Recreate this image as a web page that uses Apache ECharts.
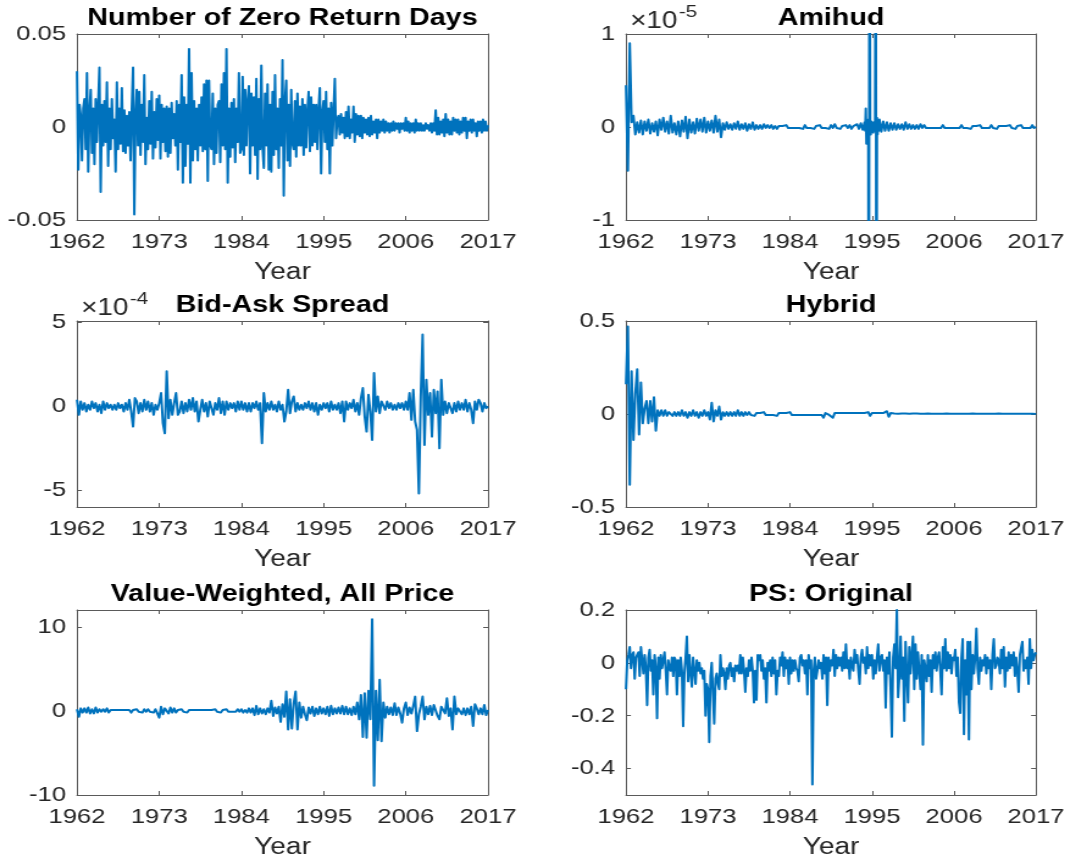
<!DOCTYPE html>
<html><head><meta charset="utf-8">
<script src="https://cdn.jsdelivr.net/npm/echarts@6/dist/echarts.min.js"></script>
<style>
html,body{margin:0;padding:0;background:#fff;overflow:hidden;}
#chart{width:879.5px;height:863px;transform:scaleX(1.22);transform-origin:0 0;}
</style></head><body><div id="chart"></div>
<script>
// ---------- data ----------
const startYear = 1962;
const endYear = 2017;
const yearTicks = [1962, 1973, 1984, 1995, 2006, 2017];

const zrdTicks = [-0.05, 0, 0.05];
const amihudTicks = [-1, 0, 1];        // x 1e-5
const bidAskTicks = [-5, 0, 5];        // x 1e-4
const hybridTicks = [-0.5, 0, 0.5];
const vwTicks = [-10, 0, 10];
const psTicks = [-0.4, -0.2, 0, 0.2];

// bi-monthly, 1962.0 .. 2017.0
const zeroReturnDays = [
 0.030,-0.023,0.012,0.006,-0.018,0.010, 0.015,-0.012,0.029,-0.024,0.008,0.020,
 -0.014,0.010,-0.020,0.015,-0.008,0.012, 0.032,-0.035,0.012,-0.010,0.014,-0.008,
 0.024,-0.021,0.010,-0.012,0.015,-0.006, 0.004,-0.024,0.024,-0.012,0.010,-0.009,
 0.021,-0.013,0.009,-0.014,0.006,-0.010, 0.008,-0.018,0.010,0.032,-0.047,0.006,
 0.020,-0.010,0.019,-0.015,0.012,-0.008, 0.028,-0.020,0.005,-0.012,0.014,-0.009,
 0.019,-0.017,0.008,-0.011,0.015,-0.007, 0.017,-0.017,0.012,-0.008,0.010,-0.013,
 0.011,-0.016,0.010,-0.014,0.013,-0.006, 0.007,-0.010,0.014,-0.023,0.012,-0.008,
 0.028,-0.030,0.016,-0.021,0.012,-0.009, 0.042,-0.030,0.029,-0.018,0.014,-0.012,
 0.010,-0.018,0.012,-0.010,0.016,-0.013, 0.023,-0.012,0.025,-0.029,0.025,-0.010,
 -0.012,0.018,-0.020,0.010,-0.014,0.012, 0.014,-0.019,0.023,-0.010,0.029,-0.012,
 0.042,-0.030,0.010,-0.016,0.013,-0.011, 0.015,-0.019,0.010,-0.008,0.029,-0.014,
 -0.012,0.027,-0.015,0.020,-0.010,0.014, 0.022,-0.025,0.018,-0.010,0.016,-0.015,
 0.026,-0.028,0.015,-0.012,0.033,-0.011, -0.022,0.018,-0.010,0.023,-0.023,0.012,
 -0.024,0.019,-0.015,0.028,-0.012,0.010, -0.022,0.015,-0.010,0.036,-0.037,0.014,
 0.025,-0.018,0.012,-0.021,0.020,-0.009, -0.012,0.014,-0.016,0.018,-0.010,0.011,
 -0.010,0.015,-0.015,0.012,-0.011,0.009, 0.019,-0.013,0.016,-0.010,0.012,-0.008,
 0.012,-0.012,0.010,0.021,-0.025,0.008, 0.014,-0.008,0.019,-0.012,0.010,-0.025,
 0.013,-0.010,0.009,0.026,-0.006,0.004, 0.006,-0.004,0.007,-0.003,0.005,-0.006,
 0.008,-0.005,0.011,-0.006,0.004,-0.003, 0.011,-0.008,0.007,-0.004,0.006,-0.005,
 0.006,-0.006,0.005,-0.003,0.004,-0.004, 0.005,-0.005,0.006,-0.004,0.003,-0.003,
 0.004,-0.006,0.004,-0.003,0.003,-0.002, 0.004,-0.003,0.003,-0.002,0.002,-0.003,
 0.002,-0.002,0.003,-0.002,0.002,-0.001, 0.002,-0.003,0.002,-0.001,0.002,-0.002,
 0.005,-0.002,0.003,-0.003,0.002,-0.002, 0.002,-0.003,0.004,-0.002,0.002,-0.002,
 0.002,-0.002,0.001,-0.002,0.002,-0.001, 0.001,-0.002,0.002,-0.003,0.002,-0.002,
 0.009,-0.004,0.005,-0.004,0.003,-0.003, 0.004,-0.005,0.007,-0.003,0.004,-0.004,
 0.003,-0.004,0.005,-0.002,0.004,-0.003, 0.004,-0.004,0.003,-0.003,0.005,-0.002,
 0.005,-0.006,0.003,-0.002,0.004,-0.003, 0.004,-0.002,0.002,-0.005,0.003,-0.002,
 0.003,-0.003,0.004,-0.002,0.003,-0.002,
 0.001
];

// x 1e-5 : quarterly 1962.0-1993.75, monthly 1994.0-1995.917, quarterly 1996.0-2017.0
const amihudEarly = [
 0.45,-0.47,0.90,0.05, 0.12,-0.08,0.05,-0.06, 0.07,-0.08,0.06,-0.04, 0.08,-0.07,0.04,-0.05,
 0.06,-0.09,0.08,-0.03, 0.10,-0.05,0.06,-0.07, 0.12,-0.06,0.04,-0.08, 0.06,-0.10,0.07,-0.05,
 0.11,-0.12,0.08,-0.06, 0.05,-0.07,0.09,-0.04, 0.08,-0.05,0.10,-0.06, 0.06,-0.04,0.07,-0.06,
 0.12,-0.05,0.08,-0.11, 0.04,-0.03,0.05,-0.02, 0.03,-0.03,0.04,-0.02, 0.06,-0.03,0.03,-0.02,
 0.04,-0.04,0.03,-0.02, 0.05,-0.03,0.02,-0.02, 0.02,-0.02,0.03,-0.01, 0.02,-0.01,0.02,-0.02,
 0.01,-0.02,0.01,-0.01, 0.01,-0.01,0.02,-0.01, 0.01,-0.01,0.01,-0.01, 0.01,-0.01,0.01,-0.02,
 0.02,-0.01,0.01,-0.01, 0.01,-0.02,0.01,-0.01, 0.02,-0.01,0.01,-0.01, 0.01,-0.02,0.02,-0.01,
 0.03,-0.01,0.01,-0.02, 0.01,-0.01,0.02,-0.01, 0.02,-0.02,0.01,-0.01, 0.03,-0.02,0.04,-0.03
];
const amihudSpike = [
 0.05,-0.04,0.20,-0.18,0.06,-0.05,0.08,-4.0,4.0,0.05,-0.08,0.06,
 -0.05,0.04,-0.06,0.05,-0.04,0.03,4.0,-4.0,0.10,-0.08,0.06,-0.04
];
const amihudLate = [
 0.08,-0.05,0.06,-0.04, 0.05,-0.04,0.04,-0.03, 0.04,-0.03,0.03,-0.02, 0.03,-0.03,0.05,-0.02,
 0.03,-0.02,0.02,-0.02, 0.02,-0.02,0.03,-0.01, 0.02,-0.01,0.01,-0.01, 0.01,-0.01,0.01,-0.01,
 0.01,-0.01,0.02,-0.01, 0.01,-0.01,0.01,-0.01, 0.01,-0.01,0.01,-0.01, 0.02,-0.01,0.01,-0.01,
 0.01,-0.02,0.01,-0.01, 0.01,-0.01,0.02,-0.01, 0.01,-0.01,0.01,-0.01, 0.02,-0.01,0.01,-0.02,
 0.01,-0.01,0.01,-0.01, 0.01,-0.01,0.02,-0.01, 0.01,-0.02,0.01,-0.01, 0.02,-0.01,0.01,-0.01,
 0.01,-0.01,0.02,-0.01,
 0.00
];

// quarterly, x 1e-4
const bidAsk = [
 0.4,-0.5,0.3,-0.2, 0.2,-0.3,0.1,-0.2, 0.3,-0.1,0.2,-0.3, 0.1,-0.4,0.3,-0.2,
 0.2,-0.1,0.1,-0.2, 0.1,-0.2,0.2,-0.1, 0.1,-0.3,0.2,-0.2, 0.4,-0.3,-1.2,0.5,
 0.3,-0.4,0.2,-0.3, 0.4,-0.2,0.3,-0.3, 0.2,-0.5,0.1,-0.2, 0.2,0.8,-1.0,-1.6,
 2.1,-0.7,0.4,-0.5, 0.2,0.8,-0.5,-0.3, 0.3,-0.4,0.2,-0.3, 0.4,-0.2,0.5,-0.3,
 0.3,-0.9,-0.2,0.4, -0.3,0.2,-0.6,0.3, 0.4,-0.5,0.2,-0.2, 0.5,-0.4,0.3,-0.5,
 0.3,-0.2,0.2,-0.1, 0.2,-0.3,0.3,-0.2, 0.3,-0.2,0.2,-0.3, 0.2,-0.3,0.2,-0.1,
 0.3,-0.2,0.2,-2.2, 0.8,-0.3,0.2,-0.2, 0.3,-0.2,0.1,-0.3, 0.3,-0.2,0.1,-0.9,
 -0.3,1.0,-0.4,0.3, 0.6,-0.3,0.2,-0.2, 0.1,-0.2,0.2,-0.1, 0.3,-0.2,0.2,-0.3,
 0.2,-0.5,0.1,-0.2, 0.2,-0.1,0.2,-0.3, 0.3,-0.2,0.1,-0.2, 0.2,-0.4,0.3,-0.9,
 0.3,-0.2,0.2,-0.1, 0.4,-0.3,0.2,-0.5, 0.5,1.1,-0.6,-1.5, 0.7,-0.3,-2.0,2.0,
 -0.3,0.6,-0.4,0.3, 0.3,-0.2,0.3,-0.1, 0.2,-0.2,0.1,-0.2, 0.2,-0.1,0.2,-0.2,
 0.3,-0.2,0.8,-0.8, 1.0,-0.9,-1.4,-5.2, 0.6,4.3,-2.3,1.6, -0.5,0.8,-1.8,1.0,
 -0.4,0.9,-2.5,1.6, -0.5,0.3,-0.4,0.2, 0.3,-0.4,0.2,-0.3, 0.3,-0.2,0.2,-0.2,
 0.4,-0.3,0.2,-0.2, -1.0,0.3,-0.2,0.4, 0.2,-0.3,0.2,-0.1,
 0.0
];

// quarterly
const hybrid = [
 0.16,0.47,-0.38,0.23, -0.14,0.11,0.24,-0.11, 0.17,-0.05,0.03,0.07, -0.05,0.07,-0.04,0.09,
 -0.09,0.02,-0.01,0.02, -0.01,0.02,-0.01,0.01, 0.01,-0.01,0.01,-0.01, 0.01,-0.01,0.02,-0.01,
 0.01,-0.02,0.01,-0.01, 0.02,-0.01,0.01,-0.02, 0.01,-0.01,0.02,-0.01, 0.01,-0.03,0.06,-0.04,
 0.02,-0.01,0.04,-0.03, 0.01,-0.01,0.01,-0.01, 0.01,-0.01,0.01,-0.01, 0.02,-0.01,0.01,-0.01,
 0.01,-0.005,0.01,-0.005, 0.005,-0.01,0.005,-0.005, 0.005,-0.005,0.01,-0.005, 0.005,-0.005,0.005,-0.005,
 0.005,-0.01,0.005,-0.005, 0.005,-0.005,0.005,-0.005, 0.01,-0.005,0.005,-0.005, 0.005,-0.005,0.005,-0.005,
 0.005,-0.005,0.005,-0.005, 0.005,-0.005,0.005,-0.005, 0.005,-0.005,-0.02,0.005, 0.005,-0.005,0.005,-0.02,
 0.005,-0.005,0.005,-0.005, 0.005,-0.005,0.005,-0.005, 0.005,-0.005,0.005,-0.005, 0.005,-0.005,0.005,-0.005,
 0.005,-0.005,0.01,-0.01, 0.005,-0.005,0.005,-0.005, 0.005,-0.005,0.005,-0.005, 0.015,-0.015,0.005,-0.005,
 0.003,-0.003,0.002,-0.003, 0.003,-0.002,0.003,-0.003, 0.002,-0.003,0.003,-0.002, 0.003,-0.003,0.002,-0.002,
 0.002,-0.002,0.003,-0.002, 0.002,-0.003,0.002,-0.002, 0.002,-0.002,0.002,-0.002, 0.003,-0.002,0.002,-0.002,
 0.002,-0.002,0.002,-0.003, 0.002,-0.002,0.002,-0.002, 0.002,-0.002,0.003,-0.002, 0.002,-0.002,0.002,-0.002,
 0.002,-0.003,0.002,-0.002, 0.002,-0.002,0.002,-0.002, 0.003,-0.002,0.002,-0.002, 0.002,-0.002,0.002,-0.002,
 0.002,-0.002,0.002,-0.002, 0.002,-0.002,0.002,-0.002, 0.002,-0.002,0.002,-0.002,
 0.0
];

// quarterly
const valueWeighted = [
 0.2,-0.7,0.3,-0.2, 0.3,-0.2,0.4,-0.3, 0.2,-0.3,0.4,-0.2, 0.2,-0.1,0.2,-0.1,
 0.3,-0.2,0.1,-0.1, 0.1,-0.1,0.1,-0.1, 0.1,-0.1,0.1,-0.1, 0.1,-0.2,0.1,-0.1,
 0.2,-0.1,0.1,-0.2, 0.2,-0.1,0.2,-0.1, 0.1,-0.2,0.2,-0.3, -0.8,0.5,-0.4,0.3,
 0.2,-0.3,0.4,-0.2, 0.3,-0.2,0.1,-0.1, 0.2,-0.1,0.1,-0.2, 0.1,-0.1,0.1,-0.1,
 0.1,-0.1,0.1,-0.1, 0.1,-0.1,0.1,-0.1, 0.1,-0.1,0.2,-0.1, 0.1,-0.2,0.1,-0.1,
 0.2,-0.1,0.1,-0.1, 0.1,-0.1,0.2,-0.1, 0.2,-0.2,0.1,-0.2, 0.3,-0.2,0.3,-0.5,
 0.6,-0.4,0.3,-0.3, 0.2,-0.4,0.3,-0.2, 1.2,-0.6,0.4,-0.3, 0.5,-1.3,0.8,-0.7,
 2.3,-2.2,1.4,-2.1, 0.9,2.3,-2.2,1.0, -0.8,0.5,-0.4,-1.1, 0.4,-0.3,0.5,-0.6,
 0.3,-0.4,0.5,-0.3, 0.3,-0.4,0.5,-0.6, 0.6,-0.4,0.3,-0.3, 0.4,-0.3,0.6,-0.4,
 0.5,-0.4,0.3,-0.5, 0.5,-0.4,1.0,-1.0, 1.9,-3.1,2.1,-3.2, 2.4,-1.0,10.9,-8.9,
 2.4,-3.5,3.7,-3.6, 1.0,-0.8,0.5,-0.4, 0.4,-0.5,0.9,-0.5, 0.4,-0.3,-1.4,0.3,
 1.0,-0.5,0.4,-0.3, 0.6,1.7,-2.4,-0.4, 0.5,1.7,-1.0,0.5, -0.4,0.6,-0.5,0.7,
 0.5,-0.6,-1.0,0.5, 0.4,-0.3,1.5,-0.6, 0.3,-2.2,1.7,-0.4, 0.3,0.5,-0.4,0.3,
 -0.5,0.3,-0.4,0.5, -1.8,0.8,0.3,-0.4, 0.3,-0.4,0.7,-0.5,
 0.1
];

// bi-monthly
const psOriginal = [
 -0.10,0.01,0.03,0.06,-0.02,0.03, 0.04,-0.06,0.02,0.03,0.04,-0.05,
 0.06,0.01,-0.04,0.03,-0.02,-0.16, 0.02,0.05,-0.03,0.01,-0.12,0.03,
 -0.02,-0.21,0.02,-0.06,0.03,-0.02, 0.01,0.04,-0.03,-0.12,0.01,-0.02,
 -0.03,0.02,-0.05,0.02,0.01,-0.12, 0.01,-0.05,0.02,-0.03,-0.24,-0.04,
 0.02,0.10,-0.07,0.03,-0.04,-0.09, 0.02,-0.03,-0.08,0.01,-0.03,0.00,
 -0.04,-0.02,-0.06,-0.03,-0.20,-0.08, -0.10,-0.30,-0.05,0.00,-0.12,-0.23,
 -0.06,-0.04,-0.08,-0.10,0.03,-0.05, -0.02,-0.04,-0.10,-0.02,-0.06,-0.01,
 0.00,-0.05,-0.02,-0.07,-0.01,-0.03, -0.01,-0.04,0.03,-0.04,0.02,-0.03,
 -0.11,-0.02,-0.05,0.01,-0.03,0.02, -0.03,-0.15,-0.03,-0.14,0.03,0.01,
 0.03,-0.03,0.01,-0.06,-0.02,-0.15, 0.00,-0.03,0.01,-0.05,0.02,-0.04,
 0.01,-0.12,-0.03,-0.05,0.02,-0.01, 0.04,-0.05,0.02,-0.02,0.01,-0.08,
 0.02,-0.04,0.01,-0.03,0.01,-0.02, -0.03,-0.07,0.02,0.03,-0.01,0.01,
 -0.04,0.01,-0.12,0.03,-0.02,0.01, -0.46,-0.03,0.02,-0.06,-0.03,0.01,
 -0.02,0.00,-0.06,0.03,-0.04,0.02, -0.16,0.02,-0.03,0.01,-0.01,0.05,
 -0.05,0.03,-0.02,0.02,-0.01,0.02, -0.03,0.04,-0.02,0.07,-0.02,0.01,
 -0.06,0.02,-0.01,-0.03,0.05,0.00, 0.03,-0.03,-0.08,0.02,0.05,0.00,
 0.02,-0.04,0.06,-0.02,0.03,-0.01, 0.03,-0.06,0.01,-0.04,0.02,0.07,
 -0.03,0.02,0.03,-0.03,0.01,-0.17, 0.02,-0.04,0.04,-0.10,-0.28,0.02,
 0.07,-0.02,0.20,-0.13,-0.05,0.10, -0.06,0.02,-0.22,0.08,-0.04,-0.15,
 0.06,-0.04,0.03,0.10,-0.10,0.07, -0.06,0.04,-0.03,-0.10,0.03,-0.31,
 0.01,-0.02,-0.07,0.03,-0.05,0.01, -0.11,0.03,-0.02,0.04,-0.03,0.02,
 0.04,-0.03,-0.12,0.06,-0.02,0.09, -0.03,0.04,-0.02,0.03,-0.04,0.02,
 0.01,0.05,-0.05,0.02,-0.15,-0.19, 0.02,0.09,-0.27,0.01,-0.12,0.08,
 -0.29,0.08,-0.10,0.03,-0.04,0.02, 0.13,-0.02,-0.08,0.02,-0.03,0.01,
 -0.01,0.03,-0.04,0.02,-0.02,0.01, -0.10,0.03,0.09,-0.02,-0.01,0.02,
 0.01,-0.04,0.05,-0.02,0.06,-0.09, 0.02,-0.03,0.04,-0.02,0.03,-0.01,
 0.04,-0.05,0.02,-0.03,-0.11,0.03, 0.03,0.08,-0.03,0.01,-0.02,0.02,
 -0.08,0.09,-0.02,0.05,0.01,0.03,
 0.04
];

// ---------- layout (screen px of the reference) ----------
const S = 1.22;                       // horizontal stretch of the reference image
const colX = [[77, 488], [626, 1036]];
const rowY = [[34, 220], [321, 507], [610, 795]];
const FONT = '"Liberation Sans", Arial, Helvetica, sans-serif';
const LINE = '#0072BD';
const AX = '#262626';
const BOX = '#5a5a5a';

const Q = 1 / 4, B = 1 / 6, M = 1 / 12;
const panels = [
  {title: 'Number of Zero Return Days', segs: [[1962, B, zeroReturnDays]], min: -0.05, max: 0.05, ticks: zrdTicks, col: 0, row: 0},
  {title: 'Amihud', segs: [[1962, Q, amihudEarly], [1994, M, amihudSpike], [1996, Q, amihudLate]], min: -1, max: 1, ticks: amihudTicks, col: 1, row: 0, exp: '-5'},
  {title: 'Bid-Ask Spread', segs: [[1962, Q, bidAsk]], min: -6, max: 5.1, ticks: bidAskTicks, col: 0, row: 1, exp: '-4'},
  {title: 'Hybrid', segs: [[1962, Q, hybrid]], min: -0.5, max: 0.5, ticks: hybridTicks, col: 1, row: 1},
  {title: 'Value-Weighted, All Price', segs: [[1962, Q, valueWeighted]], min: -10, max: 12, ticks: vwTicks, col: 0, row: 2},
  {title: 'PS: Original', segs: [[1962, B, psOriginal]], min: -0.5, max: 0.2, ticks: psTicks, col: 1, row: 2}
];

const grid = [], xAxis = [], yAxis = [], series = [], title = [], graphic = [];
const axisLineStyle = {show: true, onZero: false, lineStyle: {color: BOX, width: 1}};
const tickStyle = (vals) => ({show: true, inside: true, length: 4, customValues: vals, lineStyle: {color: BOX, width: 1}});

panels.forEach((p, i) => {
  const x0 = colX[p.col][0] / S, x1 = colX[p.col][1] / S;
  const y0 = rowY[p.row][0], y1 = rowY[p.row][1];
  grid.push({left: x0, top: y0, width: x1 - x0, height: y1 - y0, outerBoundsMode: 'none', containLabel: false});
  xAxis.push({
    gridIndex: i, type: 'value', position: 'bottom', min: startYear, max: endYear,
    axisLine: axisLineStyle, axisTick: tickStyle(yearTicks), splitLine: {show: false},
    axisLabel: {customValues: yearTicks, margin: 12, fontSize: 21, color: AX, fontFamily: FONT, formatter: v => String(v)},
    name: 'Year', nameLocation: 'middle', nameGap: 41,
    nameTextStyle: {fontSize: 23, color: AX, fontFamily: FONT}
  });
  xAxis.push({
    gridIndex: i, type: 'value', position: 'top', min: startYear, max: endYear,
    axisLine: axisLineStyle, axisTick: tickStyle(yearTicks), splitLine: {show: false},
    axisLabel: {show: false}
  });
  yAxis.push({
    gridIndex: i, type: 'value', position: 'left', min: p.min, max: p.max,
    axisLine: axisLineStyle, axisTick: tickStyle(p.ticks), splitLine: {show: false},
    axisLabel: {customValues: p.ticks, margin: 9, fontSize: 21, color: AX, fontFamily: FONT, formatter: v => String(v)}
  });
  yAxis.push({
    gridIndex: i, type: 'value', position: 'right', min: p.min, max: p.max,
    axisLine: axisLineStyle, axisTick: tickStyle(p.ticks), splitLine: {show: false},
    axisLabel: {show: false}
  });
  const data = [];
  p.segs.forEach(([t0, step, vals]) => vals.forEach((v, k) => data.push([t0 + k * step, v])));
  series.push({
    type: 'line', xAxisIndex: 2 * i, yAxisIndex: 2 * i, showSymbol: false, symbol: 'none',
    clip: true, animation: false, silent: true,
    lineStyle: {color: LINE, width: 2, join: 'round'},
    data
  });
  title.push({
    text: p.title, left: (x0 + x1) / 2, top: y0 - 27, textAlign: 'center', padding: 0,
    textStyle: {fontSize: 23.5, fontWeight: 'bold', color: '#000', fontFamily: FONT}
  });
  if (p.exp) {
    const ex = x0 + 4 / S;
    graphic.push({type: 'text', left: ex, top: y0 - 24, silent: true,
      style: {text: '\u00d710', fontSize: 23, fontFamily: FONT, fill: AX}});
    graphic.push({type: 'text', left: ex + 40, top: y0 - 30, silent: true,
      style: {text: p.exp, fontSize: 17, fontFamily: FONT, fill: AX}});
  }
});

const chart = echarts.init(document.getElementById('chart'), null, {renderer: 'canvas'});
chart.setOption({
  animation: false, backgroundColor: '#fff',
  title, grid, xAxis, yAxis, series, graphic
});
</script></body></html>
